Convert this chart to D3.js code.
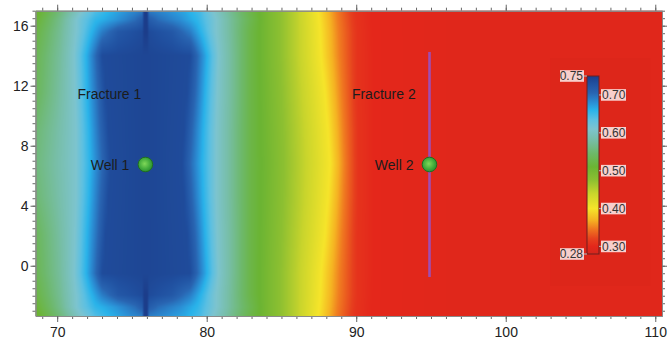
<!DOCTYPE html>
<html><head><meta charset="utf-8">
<script src="https://cdn.jsdelivr.net/npm/d3@7"></script>
<style>html,body{margin:0;padding:0;background:#fff;}svg{display:block;font-family:"Liberation Sans",Arial,sans-serif;}</style>
</head><body><svg id="chart" width="669" height="340"></svg>
<script>
// ---------- data ----------
const xTicks = [70, 80, 90, 100, 110];
const yTicks = [0, 4, 8, 12, 16];
const xDomain = [68.55, 110.45];
const yDomain = [-3.35, 17.0];

// saturation field: rows of the map (y), each uses one measured profile along x
const rowY = [17.0, 16.4, 15.6, 14.0, 11.5, 9.0, 6.8, 4.6, 2.1, -0.5, -1.95, -2.75, -3.35];
const rowProfile = [0, 1, 2, 3, 4, 5, 6, 5, 4, 3, 2, 1, 0];
const knotX = [
  [68.53,70.20,71.54,72.54,73.55,74.88,75.69,75.82,76.02,76.15,77.22,78.56,79.57,80.43,81.71,82.91,83.91,85.92,87.46,88.66,89.93,91.07,96.29,110.47],
  [68.53,70.20,71.54,72.54,73.88,75.22,75.69,75.82,76.02,76.15,76.76,78.23,79.43,80.37,81.71,82.91,83.91,85.92,87.53,88.73,90.00,91.07,96.29,110.47],
  [68.53,70.20,71.40,72.21,73.01,74.08,75.69,75.82,76.02,76.15,77.69,78.90,79.70,80.50,81.71,82.91,83.91,85.92,87.59,88.80,90.07,91.14,96.29,110.47],
  [68.53,70.20,71.14,71.94,72.54,73.01,75.69,75.82,76.02,76.15,78.90,79.43,80.03,80.77,81.77,82.91,83.91,85.92,87.66,88.86,90.07,91.20,96.29,110.47],
  [68.53,70.07,71.20,72.01,72.68,73.21,75.69,75.82,76.02,76.15,78.70,79.30,79.90,80.70,81.77,82.91,83.98,86.05,87.93,89.00,90.07,91.20,96.29,110.47],
  [68.53,69.93,71.27,72.14,72.81,73.41,75.69,75.82,76.02,76.15,78.49,79.10,79.77,80.64,81.71,82.91,84.05,86.19,88.13,89.13,90.13,91.20,96.29,110.47],
  [68.53,69.87,71.27,72.21,72.94,73.55,75.69,75.82,76.02,76.15,78.36,78.96,79.70,80.64,81.71,82.91,84.11,86.25,88.26,89.20,90.13,91.20,96.29,110.47]
];
const knotV = [
  [0.50,0.555,0.605,0.64,0.66,0.68,0.69,0.75,0.75,0.69,0.68,0.665,0.645,0.61,0.565,0.525,0.50,0.45,0.40,0.35,0.31,0.30,0.295,0.295],
  [0.51,0.565,0.62,0.655,0.675,0.70,0.715,0.75,0.75,0.715,0.70,0.68,0.655,0.62,0.57,0.53,0.50,0.45,0.40,0.35,0.31,0.30,0.295,0.295],
  [0.52,0.57,0.615,0.655,0.69,0.72,0.735,0.75,0.75,0.735,0.72,0.69,0.655,0.615,0.57,0.525,0.50,0.45,0.40,0.35,0.31,0.30,0.295,0.295],
  [0.53,0.575,0.61,0.66,0.70,0.735,0.74,0.74,0.74,0.74,0.735,0.70,0.66,0.61,0.57,0.525,0.50,0.45,0.40,0.35,0.31,0.30,0.295,0.295],
  [0.535,0.575,0.61,0.66,0.70,0.735,0.74,0.74,0.74,0.74,0.735,0.70,0.66,0.61,0.57,0.525,0.50,0.45,0.40,0.35,0.31,0.30,0.295,0.295],
  [0.55,0.578,0.61,0.66,0.70,0.735,0.74,0.74,0.74,0.74,0.735,0.70,0.66,0.61,0.57,0.525,0.50,0.45,0.40,0.35,0.31,0.30,0.295,0.295],
  [0.555,0.58,0.61,0.66,0.70,0.735,0.74,0.74,0.74,0.74,0.735,0.70,0.66,0.61,0.57,0.525,0.50,0.45,0.40,0.35,0.31,0.30,0.295,0.295]
];

// colour scale (legend)
const cbValues = [0.28, 0.30, 0.32, 0.345, 0.37, 0.40, 0.44, 0.475, 0.51, 0.545, 0.58, 0.61, 0.635, 0.66, 0.68, 0.705, 0.73, 0.75];
const cbColors = ["#d5261d","#e4271b","#e6401e","#ef7420","#f5b322","#f6e52a","#c9d52c","#8dc031","#6bb433","#6db868","#77bea6","#7dc4cf","#5cc0e2","#29b3ea","#2a8ed4","#2965b2","#2050a0","#1c3d8a"];
const cbDomain = [0.28, 0.75];
const cbLeftTicks = [0.75, 0.28];
const cbRightTicks = [0.70, 0.60, 0.50, 0.40, 0.30];

// annotations
const wellNames = ["Well 1", "Well 2"];
const wellX = [75.9, 94.9];
const wellY = [6.75, 6.75];
const fractureNames = ["Fracture 1", "Fracture 2"];
const fractureLabelX = [71.36, 89.71];
const fractureLabelY = [11.45, 11.45];
const fractureLineX = [94.9];
const fractureLineY0 = [-0.75];
const fractureLineY1 = [14.25];

// ---------- drawing ----------
const svg = d3.select("#chart");
const X0 = 35.5, X1 = 662, Y0 = 10.7, Y1 = 316;
const x = d3.scaleLinear().domain(xDomain).range([X0, X1]);
const y = d3.scaleLinear().domain(yDomain).range([Y1, Y0]);
const color = d3.scaleLinear().domain(cbValues).range(cbColors).interpolate(d3.interpolateRgb).clamp(true);

// field image
const W = 627, H = 306;
const cv = document.createElement("canvas");
cv.width = W; cv.height = H;
const ctx = cv.getContext("2d");
const img = ctx.createImageData(W, H);
const profScales = knotX.map((kx, i) => d3.scaleLinear().domain(kx).range(knotV[i]).clamp(true));
const LUT = [];
for (let k = 0; k <= 1000; k++) {
  const v = cbDomain[0] + (cbDomain[1] - cbDomain[0]) * k / 1000;
  LUT.push(d3.rgb(color(v)));
}
for (let i = 0; i < W; i++) {
  const px = X0 + (i + 0.5) * (X1 - X0) / W;
  const xv = x.invert(px);
  const pv = profScales.map(s => s(xv));
  for (let j = 0; j < H; j++) {
    const py = Y0 + (j + 0.5) * (Y1 - Y0) / H;
    const yv = y.invert(py);
    let k = 0;
    while (k < rowY.length - 2 && yv < rowY[k + 1]) k++;
    let t = (rowY[k] - yv) / (rowY[k] - rowY[k + 1]);
    t = Math.max(0, Math.min(1, t));
    const v = pv[rowProfile[k]] * (1 - t) + pv[rowProfile[k + 1]] * t;
    let li = Math.round((v - cbDomain[0]) / (cbDomain[1] - cbDomain[0]) * 1000);
    li = Math.max(0, Math.min(1000, li));
    const c = LUT[li];
    const o = (j * W + i) * 4;
    img.data[o] = c.r; img.data[o + 1] = c.g; img.data[o + 2] = c.b; img.data[o + 3] = 255;
  }
}
ctx.putImageData(img, 0, 0);
svg.append("image")
  .attr("x", X0).attr("y", Y0).attr("width", X1 - X0).attr("height", Y1 - Y0)
  .attr("preserveAspectRatio", "none")
  .attr("href", cv.toDataURL());

const defs = svg.append("defs");

// legend backdrop panel
svg.append("rect").attr("x", x(102.98)).attr("y", y(13.85))
  .attr("width", x(109.67) - x(102.98)).attr("height", y(-1.35) - y(13.85))
  .attr("fill", "#b81410").attr("opacity", 0.05);

// fracture 2 line
svg.selectAll("line.frac").data(fractureLineX).enter().append("line")
  .attr("class", "frac")
  .attr("x1", d => x(d)).attr("x2", d => x(d))
  .attr("y1", (d, i) => y(fractureLineY0[i])).attr("y2", (d, i) => y(fractureLineY1[i]))
  .attr("stroke", "#a04db2").attr("stroke-width", 2.6);

// wells
const rg = defs.append("radialGradient").attr("id", "wellGrad").attr("cx", "45%").attr("cy", "45%").attr("r", "60%");
rg.append("stop").attr("offset", "0%").attr("stop-color", "#7fd858");
rg.append("stop").attr("offset", "65%").attr("stop-color", "#3ea83a");
rg.append("stop").attr("offset", "100%").attr("stop-color", "#2a8a2c");
svg.selectAll("circle.well").data(wellX).enter().append("circle")
  .attr("class", "well")
  .attr("cx", d => x(d)).attr("cy", (d, i) => y(wellY[i])).attr("r", 7.3)
  .attr("fill", "url(#wellGrad)").attr("stroke", "#1f6e22").attr("stroke-width", 1);

svg.selectAll("text.wl").data(wellNames).enter().append("text")
  .attr("class", "wl")
  .attr("x", (d, i) => x(wellX[i]) - 16).attr("y", (d, i) => y(wellY[i]))
  .attr("dy", "0.36em").attr("text-anchor", "end")
  .attr("font-size", 14).attr("fill", "#1c1c1c").text(d => d);

svg.selectAll("text.fl").data(fractureNames).enter().append("text")
  .attr("class", "fl")
  .attr("x", (d, i) => x(fractureLabelX[i])).attr("y", (d, i) => y(fractureLabelY[i]))
  .attr("dy", "0.36em").attr("text-anchor", "start")
  .attr("font-size", 14).attr("fill", "#1c1c1c").text(d => d);

// colour bar
const cb = d3.scaleLinear().domain(cbDomain).range([254, 76]);
const lg = defs.append("linearGradient").attr("id", "cbGrad").attr("x1", 0).attr("x2", 0).attr("y1", 1).attr("y2", 0);
cbValues.forEach((v, i) => {
  lg.append("stop").attr("offset", (v - cbDomain[0]) / (cbDomain[1] - cbDomain[0]))
    .attr("stop-color", cbColors[i]);
});
const barX = 587, barW = 12;
svg.append("rect").attr("x", barX).attr("y", cb(cbDomain[1])).attr("width", barW)
  .attr("height", cb(cbDomain[0]) - cb(cbDomain[1]))
  .attr("fill", "url(#cbGrad)").attr("stroke", "#6e1e1e").attr("stroke-width", 1);

const fmt = d3.format(".2f");
const rl = svg.selectAll("g.rl").data(cbRightTicks).enter().append("g").attr("class", "rl")
  .attr("transform", d => `translate(0,${cb(d)})`);
rl.append("line").attr("x1", barX + barW).attr("x2", barX + barW + 3).attr("stroke", "#aaa").attr("stroke-width", 1.2);
rl.append("rect").attr("x", 601).attr("y", -5.8).attr("width", 25).attr("height", 11.6)
  .attr("fill", "#fff").attr("opacity", 0.78);
rl.append("text").attr("x", 602).attr("dy", "0.36em").attr("font-size", 12).attr("fill", "#333").text(d => fmt(d));

const ll = svg.selectAll("g.ll").data(cbLeftTicks).enter().append("g").attr("class", "ll")
  .attr("transform", d => `translate(0,${cb(d)})`);
ll.append("line").attr("x1", barX - 3).attr("x2", barX).attr("stroke", "#aaa").attr("stroke-width", 1.2);
ll.append("rect").attr("x", 560).attr("y", -5.8).attr("width", 24).attr("height", 11.6)
  .attr("fill", "#fff").attr("opacity", 0.78);
ll.append("text").attr("x", 583).attr("dy", "0.36em").attr("text-anchor", "end")
  .attr("font-size", 12).attr("fill", "#333").text(d => fmt(d));

// axes
const xMinor = d3.range(69, 111, 1);
const yMinor = d3.range(-3, 17.01, 0.5);
function styleAxis(g) {
  g.selectAll(".domain").attr("stroke", "#8a8a8a");
  g.selectAll(".tick line").attr("stroke", "#666");
  g.selectAll(".tick text").attr("fill", "#222").attr("font-size", 14).attr("font-family", '"Liberation Sans",Arial,sans-serif');
}
svg.append("g").attr("transform", `translate(0,${Y1})`)
  .call(d3.axisBottom(x).tickValues(xMinor).tickSize(3).tickSizeOuter(0).tickFormat("")).call(styleAxis);
svg.append("g").attr("transform", `translate(0,${Y1})`)
  .call(d3.axisBottom(x).tickValues(xTicks).tickSize(6).tickSizeOuter(0).tickPadding(5).tickFormat(d3.format("d"))).call(styleAxis);
svg.append("g").attr("transform", `translate(0,${Y0})`)
  .call(d3.axisTop(x).tickValues(xMinor).tickSize(3).tickSizeOuter(0).tickFormat("")).call(styleAxis);
svg.append("g").attr("transform", `translate(0,${Y0})`)
  .call(d3.axisTop(x).tickValues(xTicks).tickSize(6).tickSizeOuter(0).tickFormat("")).call(styleAxis);
svg.append("g").attr("transform", `translate(${X0},0)`)
  .call(d3.axisLeft(y).tickValues(yMinor).tickSize(3).tickSizeOuter(0).tickFormat("")).call(styleAxis);
svg.append("g").attr("transform", `translate(${X0},0)`)
  .call(d3.axisLeft(y).tickValues(yTicks).tickSize(5).tickSizeOuter(0).tickPadding(2).tickFormat(d3.format("d"))).call(styleAxis);
svg.append("g").attr("transform", `translate(${X1},0)`)
  .call(d3.axisRight(y).tickValues(yMinor).tickSize(3).tickSizeOuter(0).tickFormat("")).call(styleAxis);
svg.append("g").attr("transform", `translate(${X1},0)`)
  .call(d3.axisRight(y).tickValues(yTicks).tickSize(5).tickSizeOuter(0).tickFormat("")).call(styleAxis);
</script></body></html>
